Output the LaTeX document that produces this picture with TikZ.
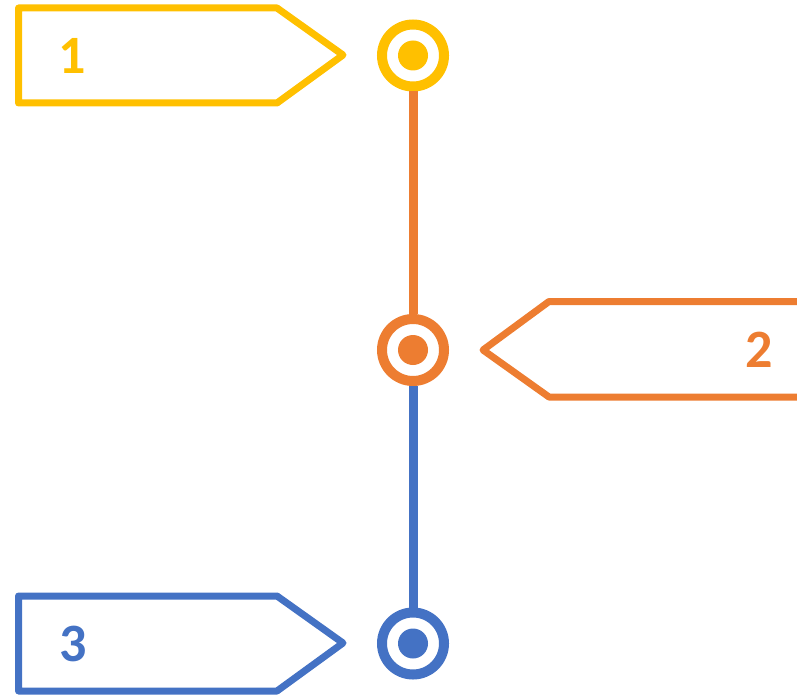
\documentclass[tikz,border=0pt]{standalone}
\usepackage{fontspec}
\setmainfont{Carlito}
\definecolor{cyel}{HTML}{FFC000}
\definecolor{corg}{HTML}{ED7D31}
\definecolor{cblu}{HTML}{4472C4}
\begin{document}
\begin{tikzpicture}[x=1pt,y=-1pt,
  tag/.style={line width=7pt,line join=round},
  ring/.style={circle,draw=#1,line width=10pt,minimum size=62pt,inner sep=0pt,fill=white},
  dot/.style={circle,fill=#1,minimum size=30pt,inner sep=0pt},
  conn/.style={line width=9pt},
  lbl/.style={font=\fontsize{54}{54}\selectfont\bfseries,inner sep=0pt}]
\useasboundingbox (0,0) rectangle (797,695);
\clip (0,0) rectangle (797,695);
% tags
\draw[tag,cyel] (18.5,8) -- (277,8) -- (343,55) -- (277,103) -- (18.5,103) -- cycle;
\draw[tag,corg] (810,301.5) -- (549,301.5) -- (483,350) -- (549,397) -- (810,397);
\draw[tag,cblu] (18.5,596) -- (277,596) -- (343,643) -- (277,691) -- (18.5,691) -- cycle;
% rings
\coordinate (p1) at (413,55.5);
\coordinate (p2) at (413,350);
\coordinate (p3) at (413,643.5);
\node[ring=cyel] (c1) at (p1) {};
\node[ring=corg] (c2) at (p2) {};
\node[ring=cblu] (c3) at (p3) {};
% connectors
\draw[conn,corg] (c1.south) -- (c2.north);
\draw[conn,cblu] (c2.south) -- (c3.north);
% dots
\node[dot=cyel] (d1) at (c1) {};
\node[dot=corg] (d2) at (c2) {};
\node[dot=cblu] (d3) at (c3) {};
% labels
\node[lbl,text=cyel] (l1) at (72,55.5) {1};
\node[lbl,text=corg] (l2) at (759,350) {2};
\node[lbl,text=cblu] (l3) at (73,643.5) {3};
\end{tikzpicture}
\end{document}
